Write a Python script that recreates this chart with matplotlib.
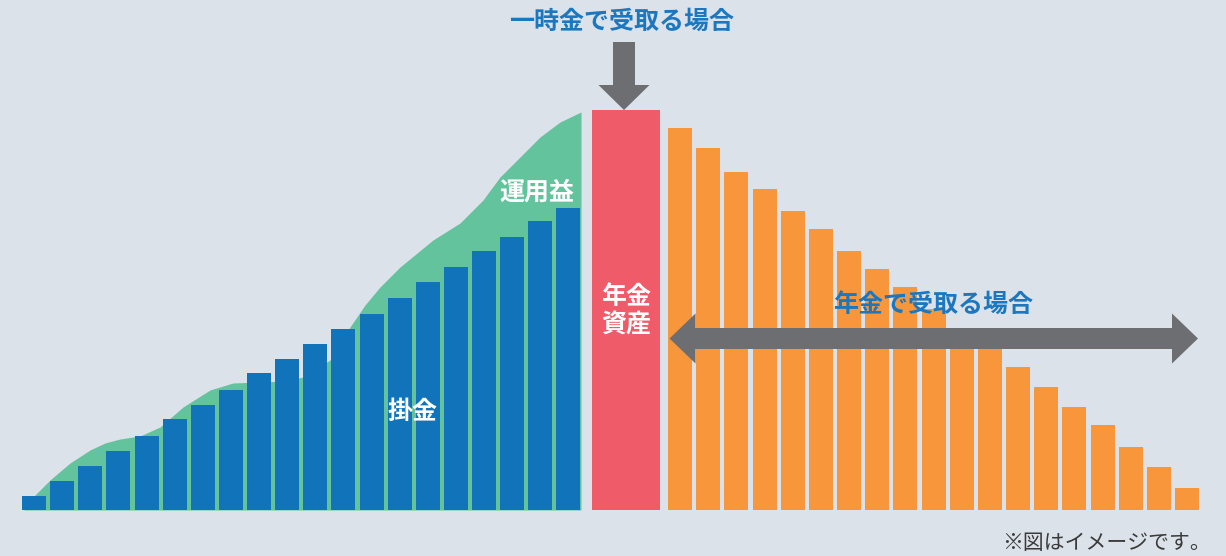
import matplotlib
matplotlib.use("Agg")
import matplotlib.pyplot as plt
from matplotlib.patches import FancyArrow
import numpy as np

plt.rcParams['font.family'] = ['Noto Sans CJK JP', 'DejaVu Sans']

# ---- data ----
contrib = [14, 29, 44, 59, 74, 91, 105, 120, 137, 151,
           166, 181, 196, 212, 228, 243, 259, 273, 289, 302]      # 掛金
asset_total = 400                                                # 年金資産
payout = [382, 362, 338, 321, 299, 281, 259, 241, 223, 201,
          180, 162, 143, 123, 103, 85, 63, 43, 22]               # 年金で受取る場合
growth_x = [24, 33, 50, 70, 90, 105, 120, 140, 160, 183, 210, 233, 260, 285,
            303, 330, 350, 365, 380, 400, 433, 460, 483, 500, 520, 540, 560, 581]
growth_h = [0, 13, 30, 47, 60, 67, 71, 74, 83, 103, 120, 127, 128, 129,
            133, 150, 183, 205, 223, 243, 270, 287, 310, 333, 353, 373, 388, 398]  # 運用益

title_lump = "一時金で受取る場合"
title_pension = "年金で受取る場合"
label_profit = "運用益"
label_contrib = "掛金"
label_asset = "年金\n資産"
footnote = "※図はイメージです。"

# ---- style ----
BG = "#dbe2e9"
BLUE = "#1174bb"
GREEN = "#63c39c"
RED = "#f05b69"
ORANGE = "#f7963b"
GRAY = "#6d6e72"
TXT_BLUE = "#1c77bf"

W, H = 1226, 556
BASE = 510  # baseline pixel row
fig = plt.figure(figsize=(W / 100, H / 100), dpi=100, facecolor=BG)
ax = fig.add_axes([0, 0, 1, 1])
ax.set_facecolor(BG)
ax.set_xlim(0, W)
ax.set_ylim(BASE - H, BASE)
ax.axis("off")

# green growth area
ax.fill_between(growth_x, 0, growth_h, color=GREEN, lw=0, zorder=1)

# blue contribution bars
bx = 34 + 28.13 * np.arange(len(contrib))
ax.bar(bx, contrib, width=24, color=BLUE, lw=0, zorder=2)

# red asset bar
ax.bar([626], [asset_total], width=68, color=RED, lw=0, zorder=2)

# orange payout bars
ox = 680 + 28.17 * np.arange(len(payout))
ax.bar(ox, payout, width=24, color=ORANGE, lw=0, zorder=2)

# down arrow
ax.add_patch(FancyArrow(624, BASE - 42, 0, -(110 - 42), width=22, head_width=51,
                        head_length=25, length_includes_head=True,
                        color=GRAY, lw=0, zorder=4))
# double arrow: one full-length arrow to the right, plus a left head drawn over it
ymid = BASE - 338.5
xl, xr = 669.5, 1198
ax.add_patch(FancyArrow(xl + 20, ymid, xr - (xl + 20), 0, width=21, head_width=50,
                        head_length=26, length_includes_head=True,
                        color=GRAY, lw=0, zorder=4))
ax.add_patch(FancyArrow(xl + 60, ymid, xl - (xl + 60), 0, width=21, head_width=50,
                        head_length=26, length_includes_head=True,
                        color=GRAY, lw=0, zorder=4))

# texts
ax.text(622, BASE - 22, title_lump, color=TXT_BLUE, fontsize=18, fontweight="bold",
        ha="center", va="center", zorder=5)
ax.text(933, BASE - 305, title_pension, color=TXT_BLUE, fontsize=18, fontweight="bold",
        ha="center", va="center", zorder=5)
ax.text(537, BASE - 193, label_profit, color="white", fontsize=18, fontweight="bold",
        ha="center", va="center", zorder=5)
ax.text(412, BASE - 412, label_contrib, color="white", fontsize=18, fontweight="bold",
        ha="center", va="center", zorder=5)
ax.text(626, BASE - 311, label_asset, color="white", fontsize=18, fontweight="bold",
        ha="center", va="center", linespacing=1.25, zorder=5)
ax.text(1211, BASE - 543, footnote, color="#3a3a3a", fontsize=15,
        ha="right", va="center", zorder=5)

fig.savefig("out.png", dpi=100, facecolor=BG)
